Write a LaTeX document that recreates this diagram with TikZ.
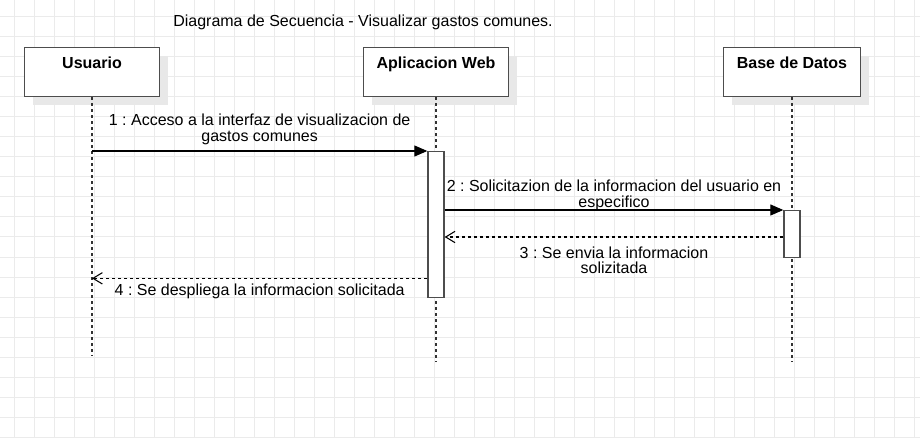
\documentclass[tikz,border=0pt]{standalone}
\usepackage{fontspec}
\setmainfont{Liberation Sans}
\usetikzlibrary{arrows.meta,shadows}
\definecolor{gridgray}{HTML}{EBEBEB}
\definecolor{boxgray}{HTML}{4D4D4D}
\frenchspacing
\begin{document}
\begin{tikzpicture}[x=0.75pt,y=-0.75pt,
        font=\fontsize{12}{11.5}\selectfont,
        gridline/.style={draw=gridgray, line width=0.75pt},
        actor/.style={draw=boxgray, line width=1pt, fill=white, inner sep=0pt, anchor=north,
            text height=15.75pt, text depth=21pt, font=\fontsize{12}{11.5}\selectfont\bfseries,
            drop shadow={shadow xshift=6pt, shadow yshift=-6pt, fill=black!9, opacity=1}},
        activation/.style={draw=boxgray, line width=1pt, fill=white, minimum width=12pt, inner sep=0pt, anchor=north},
        lifeline/.style={draw=black!80, line width=0.9pt, dash pattern=on 2.25pt off 2.25pt},
        call/.style={line width=0.8pt, -{Triangle[length=9.75pt,width=8.25pt]}},
        reply/.style={line width=0.8pt, dash pattern=on 2.25pt off 2.25pt, -{Straight Barb[length=7pt,width=8.5pt]}}]
    \useasboundingbox[fill=white] (0,0) rectangle (920,438);
    \foreach \gx in {14,34,...,914} \draw[gridline] (\gx,0) -- (\gx,438);
    \foreach \gy in {17,37,...,437} \draw[gridline] (0,\gy) -- (920,\gy);

    \node[anchor=base] (title) at (363,27) {Diagrama de Secuencia - Visualizar gastos comunes.};

    \node[actor, minimum width=101.25pt] (usr) at (92,47) {Usuario};
    \node[actor, minimum width=108.75pt] (web) at (436,47) {Aplicacion Web};
    \node[actor, minimum width=102.75pt] (db) at (792,47) {Base de Datos};

    \coordinate (usrend) at (92,356);
    \coordinate (webend) at (436,362);
    \coordinate (dbend) at (792,362);
    \draw[lifeline] (usr.south) -- (usrend);
    \draw[lifeline] (web.south) -- (webend);
    \draw[lifeline] (db.south) -- (dbend);

    \node[activation, minimum height=109.5pt] (webact) at (436,151) {};
    \node[activation, minimum height=35.25pt] (dbact) at (792,210) {};

    \draw[call] (usr.south |- webact.north) -- (webact.north west)
        node[midway, above, align=center, inner sep=4.5pt] {1 : Acceso a la interfaz de visualizacion de\\gastos comunes};
    \draw[call] (webact.east |- dbact.north) -- (dbact.north west)
        node[midway, above, align=center, inner sep=0pt, yshift=-0.75pt] {2 : Solicitazion de la informacion del usuario en\\especifico};
    \path ([yshift=-20.25pt]dbact.north west) coordinate (m3db);
    \draw[reply] (m3db) -- (m3db -| webact.east)
        node[midway, below, align=center, inner sep=7pt] {3 : Se envia la informacion\\solizitada};
    \path ([yshift=15pt]webact.south west) coordinate (m4web);
    \draw[reply] (m4web) -- (m4web -| usr.south)
        node[midway, below, inner sep=3.5pt] {4 : Se despliega la informacion solicitada};
\end{tikzpicture}
\end{document}
